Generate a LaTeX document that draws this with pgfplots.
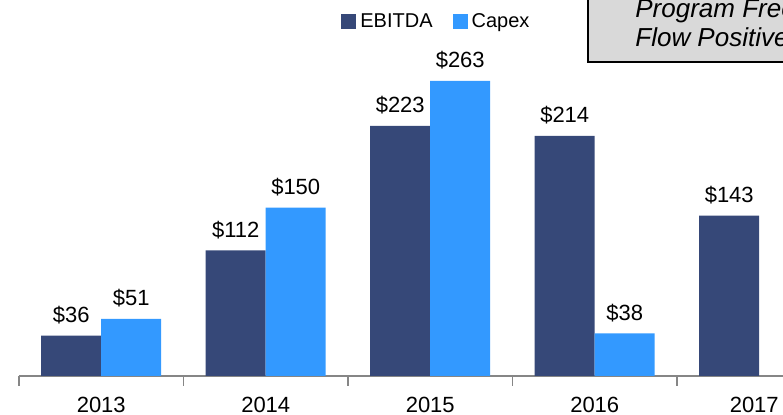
\documentclass[border=0pt]{standalone}
\usepackage{fontspec}
\setmainfont{Liberation Sans}
\usepackage{pgfplots}
\pgfplotsset{compat=1.18}

\definecolor{ebitda}{RGB}{54,72,120}
\definecolor{capex}{RGB}{51,153,255}
\definecolor{axisgray}{RGB}{134,134,134}
\definecolor{boxgray}{RGB}{217,217,217}

\begin{document}
\begin{tikzpicture}
\useasboundingbox (-9.5pt,-19.5pt) rectangle (382pt,188pt);
\clip (-9.5pt,-19.5pt) rectangle (382pt,188pt);
\begin{axis}[
    at={(0,0)}, anchor=south west,
    scale only axis, width=411.25pt, height=188pt,
    xmin=-0.5, xmax=4.5, ymin=0, ymax=335.2,
    ybar, bar width=30pt,
    axis y line=none,
    axis x line=bottom,
    x axis line style={-, axisgray, line width=0.75pt},
    xtick={0,1,2,3,4},
    xticklabels={2013,2014,2015,2016,{2017\hspace*{5pt}}},
    major tick length=0pt,
    minor xtick={-0.5,0.5,1.5,2.5,3.5},
    minor tick length=5pt,
    tick align=outside,
    minor tick style={axisgray, line width=0.75pt},
    xticklabel style={font=\fontsize{11}{13}\selectfont, inner sep=0pt, yshift=-10.5pt},
    /pgf/number format/assume math mode=true,
    nodes near coords={\$\pgfmathprintnumber{\pgfplotspointmeta}},
    every node near coord/.append style={font=\fontsize{11}{13}\selectfont,
        black, inner sep=0pt, anchor=base, yshift=6.5pt},
    legend columns=2,
    legend style={at={(0.3915,0.9415)}, anchor=west, draw=none, fill=none,
        inner sep=0pt, font=\fontsize{10}{12}\selectfont,
        /tikz/every even column/.append style={column sep=8pt}},
]
\addplot[fill=ebitda, draw=none, bar shift=-15pt,
    legend image code/.code={\fill[ebitda] (0pt,-3.75pt) rectangle (7.5pt,3.75pt);}]
    coordinates {(0,36) (1,112) (2,223) (3,214) (4,143)};
\addplot[fill=capex, draw=none, bar shift=15pt,
    legend image code/.code={\fill[capex] (0pt,-3.75pt) rectangle (7.5pt,3.75pt);}]
    coordinates {(0,51) (1,150) (2,263) (3,38)};
\legend{EBITDA,Capex}
\end{axis}
% callout box, cut off at the top right as in the source
\draw[fill=boxgray, line width=1.2pt] (284.5pt,157pt) rectangle (420pt,210pt);
\node[anchor=base west, inner sep=0pt, font=\itshape\fontsize{13}{15}\selectfont]
    at (308pt,179pt) {Program Free Cash};
\node[anchor=base west, inner sep=0pt, font=\itshape\fontsize{13}{15}\selectfont]
    at (308pt,164.5pt) {Flow Positive};
\end{tikzpicture}
\end{document}
